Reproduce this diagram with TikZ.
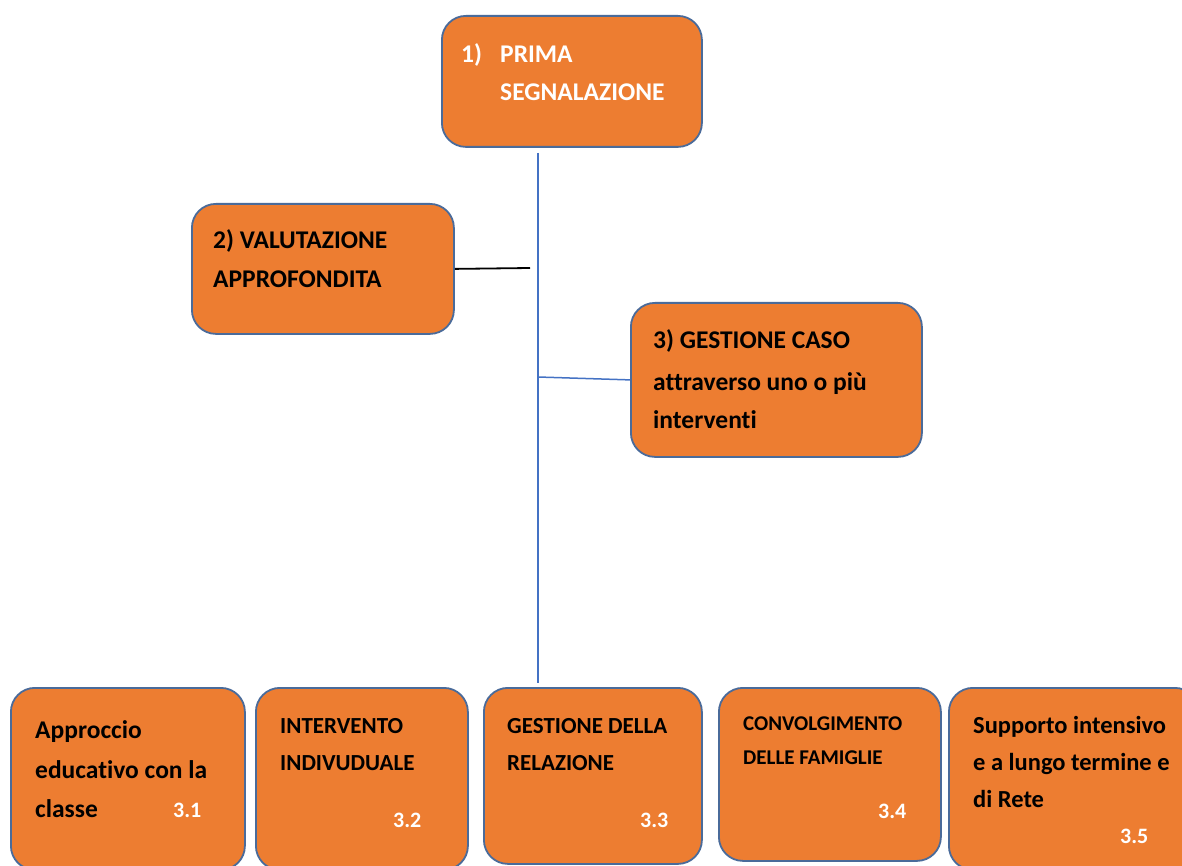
\documentclass[tikz,border=0pt]{standalone}
\usepackage{fontspec}
\setmainfont[Ligatures=NoCommon]{Carlito}
\definecolor{boxfill}{HTML}{ED7D31}
\definecolor{boxedge}{HTML}{4A6B9A}
\definecolor{linkblue}{HTML}{4472C4}
\begin{document}
\begin{tikzpicture}[x=1pt,y=-1pt,
  box/.style={draw=boxedge, line width=1.8pt, fill=boxfill, rounded corners=24pt,
    anchor=north west, inner sep=0pt},
  tline/.style={anchor=base west, inner sep=0pt, font=\fontsize{25.5}{30}\selectfont\bfseries, text=black},
  wline/.style={tline, text=white},
  sline/.style={tline, font=\fontsize{23}{28}\selectfont\bfseries},
  xline/.style={tline, font=\fontsize{21}{26}\selectfont\bfseries},
  rline/.style={tline, font=\fontsize{24.5}{29}\selectfont\bfseries},
  numlbl/.style={anchor=base west, inner sep=0pt, font=\fontsize{22}{26}\selectfont\bfseries, text=white},
  bluelink/.style={draw=linkblue, line width=1.5pt},
  blacklink/.style={draw=black, line width=1.8pt}]
\useasboundingbox (0,0) rectangle (1182,866);
\clip (0,0) rectangle (1182,866);
\fill[white] (0,0) rectangle (1182,866);

% top boxes
\node[box, minimum width=260pt, minimum height=131pt] (b1) at (441,15) {};
\node[box, minimum width=262pt, minimum height=130pt] (b2) at (191,203) {};
\node[box, minimum width=291pt, minimum height=154pt] (b3) at (630,302) {};

% bottom boxes
\node[box, minimum width=234pt, minimum height=182pt] (b31) at (10,687) {};
\node[box, minimum width=212pt, minimum height=182pt] (b32) at (255,687) {};
\node[box, minimum width=218pt, minimum height=176pt] (b33) at (483,687) {};
\node[box, minimum width=222pt, minimum height=173pt] (b34) at (718,687) {};
\node[box, minimum width=250pt, minimum height=182pt] (b35) at (948,687) {};

% connectors
\coordinate (vtop) at (538,153);
\coordinate (vbot) at (538,683);
\coordinate (j2) at (530,268);
\coordinate (j3) at (538,377);
\draw[bluelink] (vtop) -- (vbot);
\draw[blacklink] (b2.east) -- (j2);
\draw[bluelink] (j3) -- (b3.west);

% texts box 1
\node[wline] (t1n) at (461,63) {1)};
\node[wline] (t1a) at (500,63) {PRIMA};
\node[wline] (t1b) at (500,101) {SEGNALAZIONE};

% box 2
\node[tline] (t2a) at (213,249) {2) VALUTAZIONE};
\node[tline] (t2b) at (213,288) {APPROFONDITA};

% box 3
\node[tline] (t3a) at (653,348) {3) GESTIONE CASO};
\node[tline] (t3b) at (653,390) {attraverso uno o più};
\node[tline] (t3c) at (653,428) {interventi};

% box 3.1
\node[tline] (t31a) at (35,738) {Approccio};
\node[tline] (t31b) at (35,778) {educativo con la};
\node[tline] (t31c) at (35,817) {classe};
\node[numlbl] (n31) at (173,817) {3.1};

% box 3.2
\node[sline] (t32a) at (280,733) {INTERVENTO};
\node[sline] (t32b) at (280,770) {INDIVUDUALE};
\node[numlbl] (n32) at (393,827) {3.2};

% box 3.3
\node[sline] (t33a) at (507,733) {GESTIONE DELLA};
\node[sline] (t33b) at (507,770) {RELAZIONE};
\node[numlbl] (n33) at (640,827) {3.3};

% box 3.4
\node[xline] (t34a) at (743,730) {CONVOLGIMENTO};
\node[xline] (t34b) at (743,764) {DELLE FAMIGLIE};
\node[numlbl] (n34) at (878,818) {3.4};

% box 3.5
\node[rline] (t35a) at (973,733) {Supporto intensivo};
\node[rline] (t35b) at (973,770) {e a lungo termine e};
\node[rline] (t35c) at (973,807) {di Rete};
\node[numlbl] (n35) at (1120,843) {3.5};
\end{tikzpicture}
\end{document}
